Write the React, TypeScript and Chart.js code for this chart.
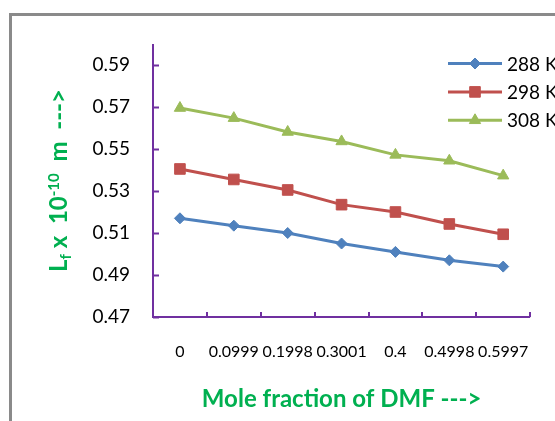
import React, { useEffect, useRef } from "react";
import { Chart, registerables } from "chart.js";
import { drawPoint } from "chart.js/helpers";

Chart.register(...registerables);

const moleFractions = ["0", "0.0999", "0.1998", "0.3001", "0.4", "0.4998", "0.5997"];
const lf288 = [0.517, 0.5135, 0.51, 0.505, 0.501, 0.497, 0.494];
const lf298 = [0.5405, 0.5355, 0.5305, 0.5235, 0.52, 0.5143, 0.5094];
const lf308 = [0.5695, 0.5647, 0.5581, 0.5536, 0.5472, 0.5444, 0.5373];
const yTickValues = [0.47, 0.49, 0.51, 0.53, 0.55, 0.57, 0.59];
const seriesNames = ["288 K", "298 K", "308 K"];

const PURPLE = "#7030A0";
const GREEN = "#00B050";
const COLORS = ["#4F81BD", "#C0504D", "#9BBB59"];
const STYLES = ["rectRot", "rect", "triangle"];
const RADII = [5.5, 7.5, 6.5];

function xBounds(xs: any) {
  const n = moleFractions.length;
  const p0 = xs.getPixelForValue(0);
  const p1 = xs.getPixelForValue(1);
  const step = p1 - p0;
  const start = p0 - step / 2;
  return { start, step, end: start + n * step, n };
}

const decor = {
  id: "decor",
  beforeDraw(chart: any) {
    const ctx = chart.ctx;
    ctx.save();
    ctx.fillStyle = "#ffffff";
    ctx.fillRect(0, 0, chart.width, chart.height);
    ctx.strokeStyle = "#8a8a8a";
    ctx.lineWidth = 3;
    ctx.beginPath();
    ctx.moveTo(10.5, chart.height + 5);
    ctx.lineTo(10.5, 14.5);
    ctx.lineTo(chart.width + 5, 14.5);
    ctx.stroke();
    ctx.restore();
  },
  afterDatasetsDraw(chart: any) {
    const ctx = chart.ctx;
    const ys = chart.scales.y;
    const xs = chart.scales.x;
    const { start, step, end, n } = xBounds(xs);
    const left = ys.right;
    const top = ys.top;
    const bottom = ys.bottom;
    ctx.save();
    ctx.lineCap = "butt";
    ctx.strokeStyle = PURPLE;
    ctx.lineWidth = 2;
    ctx.beginPath();
    ctx.moveTo(left, top);
    ctx.lineTo(left, bottom);
    ctx.stroke();
    ctx.beginPath();
    ctx.moveTo(left - 1, bottom);
    ctx.lineTo(end, bottom);
    ctx.stroke();
    ctx.beginPath();
    yTickValues.forEach((v) => {
      const y = Math.round(ys.getPixelForValue(v)) + 0.5;
      ctx.moveTo(left, y);
      ctx.lineTo(left + 6, y);
    });
    for (let i = 1; i <= n; i++) {
      const x = Math.round(start + i * step);
      ctx.moveTo(x, bottom);
      ctx.lineTo(x, bottom - 5);
    }
    ctx.stroke();
    ctx.restore();
  },
  afterDraw(chart: any) {
    const ctx = chart.ctx;
    const xs = chart.scales.x;
    const ys = chart.scales.y;
    const { start, end } = xBounds(xs);
    const top = ys.top;
    const bottom = ys.bottom;
    ctx.save();
    // keep the area right of the plot clear
    ctx.fillStyle = "#ffffff";
    ctx.fillRect(end + 1, bottom - 12, chart.width - end, 24);
    // x title
    ctx.fillStyle = GREEN;
    ctx.font = "bold 24px Lato";
    ctx.textAlign = "center";
    ctx.textBaseline = "alphabetic";
    ctx.fillText("Mole fraction of DMF --->", (start + end) / 2, 407);

    // y title with sub/superscripts
    const big = "bold 24px Lato";
    const small = "bold 15px Lato";
    const parts = [
      { t: "L", f: big, dy: 0 },
      { t: "f", f: small, dy: 4 },
      { t: " x  10", f: big, dy: 0 },
      { t: "-10", f: small, dy: -8 },
      { t: "  m  --->", f: big, dy: 0 },
    ];
    let total = 0;
    const widths = parts.map((p) => {
      ctx.font = p.f;
      const w = ctx.measureText(p.t).width;
      total += w;
      return w;
    });
    ctx.translate(58, (top + bottom) / 2);
    ctx.rotate(-Math.PI / 2);
    ctx.textAlign = "left";
    let x = -total / 2;
    parts.forEach((p, i) => {
      ctx.font = p.f;
      ctx.fillText(p.t, x, 9 + p.dy);
      x += widths[i];
    });
    ctx.restore();

    // legend
    ctx.save();
    chart.data.datasets.forEach((ds: any, i: number) => {
      const y = top + 19.5 + i * 28.4;
      ctx.strokeStyle = ds.borderColor;
      ctx.lineWidth = 3;
      ctx.beginPath();
      ctx.moveTo(448, y);
      ctx.lineTo(502, y);
      ctx.stroke();
      ctx.fillStyle = ds.backgroundColor;
      ctx.strokeStyle = ds.borderColor;
      ctx.lineWidth = 1;
      drawPoint(ctx, { pointStyle: ds.pointStyle, rotation: 0, radius: ds.pointRadius, borderWidth: 1 }, 475, y);
      ctx.fillStyle = "#000000";
      ctx.font = "19px Lato";
      ctx.textAlign = "left";
      ctx.textBaseline = "middle";
      ctx.fillText(ds.label, 507, y + 1);
    });
    ctx.restore();
  },
};

export default function App() {
  const ref = useRef<HTMLCanvasElement | null>(null);
  useEffect(() => {
    document.body.style.margin = "0";
    if (!ref.current) return;
    const seriesData = [lf288, lf298, lf308];
    const chart = new Chart(ref.current, {
      type: "line",
      data: {
        labels: moleFractions,
        datasets: seriesData.map((d, i) => ({
          label: seriesNames[i],
          data: d,
          borderColor: COLORS[i],
          backgroundColor: COLORS[i],
          borderWidth: 3,
          pointStyle: STYLES[i] as any,
          pointRadius: RADII[i],
          pointBorderWidth: 1,
          pointBackgroundColor: COLORS[i],
          pointBorderColor: COLORS[i],
          tension: 0,
          fill: false,
        })),
      },
      options: {
        responsive: false,
        animation: false,
        events: [],
        layout: { padding: { top: 44, right: 24, left: 0, bottom: 0 } },
        plugins: { legend: { display: false }, tooltip: { enabled: false } },
        scales: {
          x: {
            type: "category",
            offset: true,
            grid: { display: false, drawTicks: false },
            border: { display: false },
            ticks: {
              padding: 25,
              autoSkip: false,
              maxRotation: 0,
              color: "#000000",
              font: { family: "Lato", size: 16 },
            },
            afterFit: (s: any) => {
              s.height = 104;
            },
          },
          y: {
            type: "linear",
            min: 0.47,
            max: 0.6,
            grid: { display: false, drawTicks: false },
            border: { display: false },
            ticks: {
              padding: 23,
              color: "#000000",
              font: { family: "Lato", size: 19 },
              callback: (v: any) => Number(v).toFixed(2),
            },
            afterBuildTicks: (s: any) => {
              s.ticks = yTickValues.map((v) => ({ value: v }));
            },
            afterFit: (s: any) => {
              s.width = 153;
            },
          },
        },
      },
      plugins: [decor],
    });
    return () => chart.destroy();
  }, []);
  return <canvas ref={ref} width={555} height={421} style={{ display: "block" }} />;
}
